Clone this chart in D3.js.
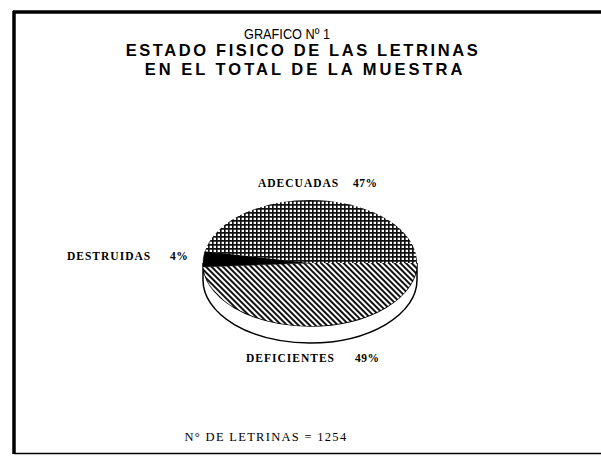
<!DOCTYPE html>
<html>
<head>
<meta charset="utf-8">
<script src="https://cdn.jsdelivr.net/npm/d3@7"></script>
<style>
  html, body { margin: 0; padding: 0; background: #fff; }
  svg { display: block; }
</style>
</head>
<body>
<svg id="svg" width="601" height="469"></svg>
<script>
(function () {
  // data
  const categories = ['DEFICIENTES', 'DESTRUIDAS', 'ADECUADAS'];
  const percents = [49, 4, 47];
  const fills = ['url(#diag)', '#000', 'url(#grid)'];
  const titleLines = ['GRAFICO Nº 1', 'ESTADO FISICO DE LAS LETRINAS', 'EN EL TOTAL DE LA MUESTRA'];
  const footNote = 'N° DE LETRINAS = 1254';

  const W = 601, H = 469;
  const svg = d3.select('#svg');

  // patterns
  const defs = svg.append('defs');
  const grid = defs.append('pattern').attr('id', 'grid')
    .attr('patternUnits', 'userSpaceOnUse').attr('width', 4).attr('height', 4);
  grid.append('rect').attr('width', 4).attr('height', 4).attr('fill', '#fff');
  grid.append('path').attr('d', 'M0,0.8 H4 M0.8,0 V4').attr('stroke', '#111').attr('stroke-width', 1.7);

  const diag = defs.append('pattern').attr('id', 'diag')
    .attr('patternUnits', 'userSpaceOnUse').attr('width', 4).attr('height', 4)
    .attr('patternTransform', 'rotate(-45)');
  diag.append('rect').attr('width', 4).attr('height', 4).attr('fill', '#fff');
  diag.append('path').attr('d', 'M1,0 V4').attr('stroke', '#111').attr('stroke-width', 2);

  // frame
  const frame = svg.append('g').attr('stroke', '#000').attr('fill', 'none');
  frame.append('line').attr('x1', 14).attr('x2', 14).attr('y1', 11).attr('y2', 454).attr('stroke-width', 3.5);
  frame.append('line').attr('x1', 13).attr('x2', W).attr('y1', 12).attr('y2', 12).attr('stroke-width', 3.5);
  frame.append('line').attr('x1', 14).attr('x2', W).attr('y1', 453.5).attr('y2', 453.5).attr('stroke-width', 1.5);

  // title
  const sans = 'Liberation Sans, Arial, sans-serif';
  svg.append('text').attr('x', 287).attr('y', 39).attr('text-anchor', 'middle')
    .attr('font-family', sans).attr('font-size', 14.5)
    .attr('textLength', 86).attr('lengthAdjust', 'spacingAndGlyphs').text(titleLines[0]);
  svg.append('text').attr('x', 303).attr('y', 56).attr('text-anchor', 'middle')
    .attr('font-family', sans).attr('font-weight', 'bold').attr('font-size', 16.5)
    .attr('letter-spacing', 2.6).text(titleLines[1]);
  svg.append('text').attr('x', 305).attr('y', 75).attr('text-anchor', 'middle')
    .attr('font-family', sans).attr('font-weight', 'bold').attr('font-size', 16.5)
    .attr('letter-spacing', 3).text(titleLines[2]);

  // pie (elliptical, with a little depth)
  const cx = 310, cy = 263, rx = 107, ry = 63, depth = 17;
  const pie = d3.pie().sort(null).value(d => d)
    .startAngle(Math.PI / 2).endAngle(Math.PI / 2 + 2 * Math.PI);
  const arcs = pie(percents);

  const pt = a => [cx + rx * Math.sin(a), cy - ry * Math.cos(a)];
  function slicePath(d) {
    const p0 = pt(d.startAngle), p1 = pt(d.endAngle);
    const large = (d.endAngle - d.startAngle) > Math.PI ? 1 : 0;
    return `M${cx},${cy} L${p0[0]},${p0[1]} A${rx},${ry} 0 ${large} 1 ${p1[0]},${p1[1]} Z`;
  }

  // side wall
  svg.append('path')
    .attr('d', `M${cx - rx},${cy} L${cx - rx},${cy + depth} A${rx},${ry} 0 0 0 ${cx + rx},${cy + depth} L${cx + rx},${cy} A${rx},${ry} 0 0 1 ${cx - rx},${cy} Z`)
    .attr('fill', '#fff').attr('stroke', '#000').attr('stroke-width', 1.5);

  svg.append('g').selectAll('path').data(arcs).join('path')
    .attr('d', slicePath)
    .attr('fill', (d, i) => fills[i])
    .attr('stroke', (d, i) => i === 1 ? '#000' : 'none')
    .attr('stroke-width', 0.5);

  // labels
  const serif = 'Liberation Serif, Times New Roman, serif';
  const labelPos = [
    { x: 246, y: 362, px: 355 },
    { x: 67, y: 260, px: 170 },
    { x: 258, y: 187, px: 353 }
  ];
  const lab = svg.append('g').attr('font-family', serif).attr('font-size', 11.5).attr('font-weight', 'bold');
  categories.forEach((c, i) => {
    lab.append('text').attr('x', labelPos[i].x).attr('y', labelPos[i].y)
      .attr('letter-spacing', 1).text(c);
    lab.append('text').attr('x', labelPos[i].px).attr('y', labelPos[i].y)
      .attr('font-size', 11.5).attr('letter-spacing', 0.5).text(percents[i] + '%');
  });

  svg.append('text').attr('x', 266).attr('y', 441).attr('text-anchor', 'middle')
    .attr('font-family', serif).attr('font-size', 12.5).attr('letter-spacing', 1.3)
    .text(footNote);
})();
</script>
</body>
</html>
